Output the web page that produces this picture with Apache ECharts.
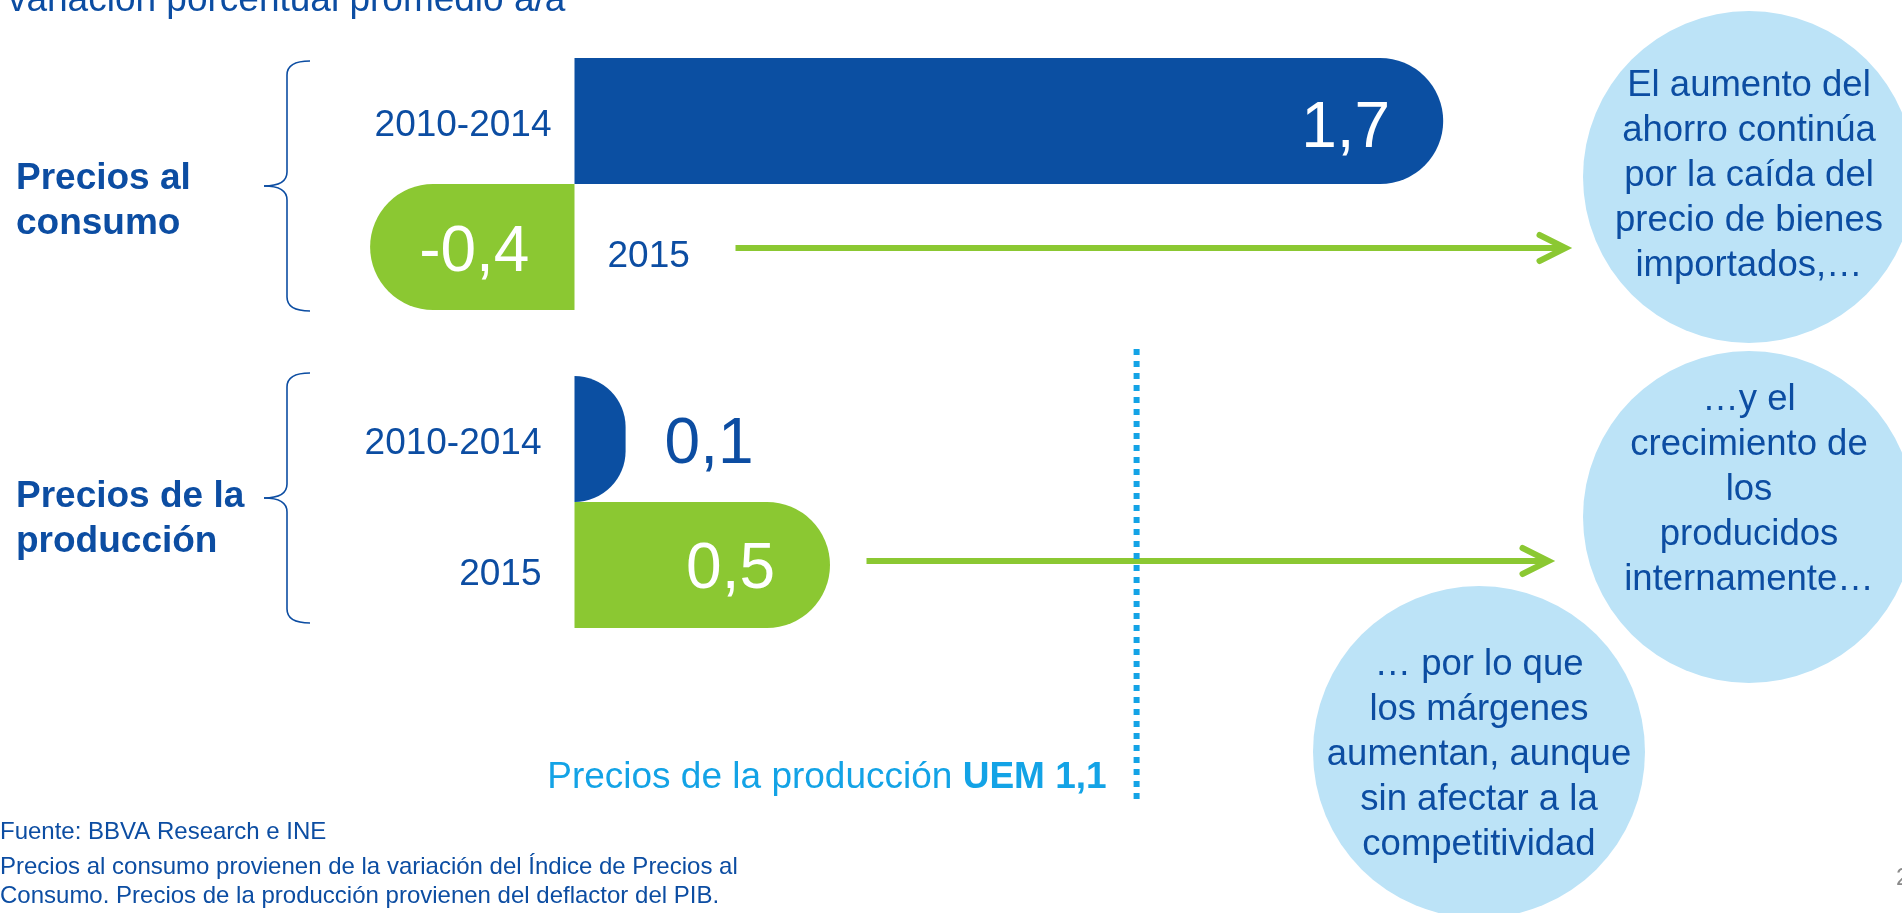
<!DOCTYPE html>
<html>
<head>
<meta charset="utf-8">
<script src="https://cdn.jsdelivr.net/npm/echarts@6/dist/echarts.min.js"></script>
<style>
html,body{margin:0;padding:0;background:#ffffff;overflow:hidden}
#c{width:1902px;height:913px}
</style>
</head>
<body>
<div id="c"></div>
<script>
// ---------- data ----------
const groups = ['Precios al\nconsumo', 'Precios de la\nproducción'];
const periods = ['2010-2014', '2015'];
const values20102014 = [1.7, 0.1];
const values2015 = [-0.4, 0.5];
const uemProduccion = 1.1;
const uemLabel = ['Precios de la producción ', 'UEM 1,1'];
const titleText = 'variación porcentual promedio a/a';
const sourceText = 'Fuente: BBVA Research e INE';
const noteLines = [
  'Precios al consumo provienen de la variación del Índice de Precios al',
  'Consumo. Precios de la producción provienen del deflactor del PIB.'
];
const bubble1 = ['El aumento del', 'ahorro continúa', 'por la caída del', 'precio de bienes', 'importados,…'];
const bubble2 = ['…y el', 'crecimiento de', 'los', 'producidos', 'internamente…'];
const bubble3 = ['… por lo que', 'los márgenes', 'aumentan, aunque', 'sin afectar a la', 'competitividad'];
const pageNumber = '2';

// ---------- style ----------
const BLUE = '#0b4fa2';
const GREEN = '#8bc832';
const TEXT = '#0c4da2';
const LIGHT = '#bce3f7';
const CYAN = '#13a3e6';
const FONT = "'Liberation Sans', Arial, sans-serif";
const BAR_W = 126;
const fmt = v => v.toFixed(1).replace('.', ',');

const chart = echarts.init(document.getElementById('c'), null, {renderer: 'canvas'});

function barItem(v, labelCfg) {
  return {
    value: v,
    itemStyle: {borderRadius: v >= 0 ? [0, 63, 63, 0] : [63, 0, 0, 63]},
    label: labelCfg
  };
}
const bigLabel = {show: true, fontFamily: FONT, fontSize: 64, formatter: p => fmt(p.value)};

const option = {
  animation: false,
  backgroundColor: '#ffffff',
  grid: {left: 63.5, right: 305.5, top: 25, height: 636, containLabel: false},
  xAxis: {type: 'value', min: -1, max: 2, show: false},
  yAxis: {
    type: 'category', data: groups, inverse: true,
    axisLine: {show: false}, axisTick: {show: false}, splitLine: {show: false},
    axisLabel: {show: false}
  },
  series: [
    {
      type: 'bar', name: periods[0], barWidth: BAR_W, barGap: '0%', color: BLUE,
      data: [
        barItem(values20102014[0], Object.assign({}, bigLabel, {position: 'insideRight', distance: 53, color: '#fff', offset: [0, 8]})),
        barItem(values20102014[1], Object.assign({}, bigLabel, {position: 'right', distance: 39, color: TEXT, offset: [0, 6]}))
      ]
    },
    {
      type: 'bar', name: periods[1], barWidth: BAR_W, barGap: '0%', color: GREEN,
      data: [
        barItem(values2015[0], Object.assign({}, bigLabel, {position: 'inside', color: '#fff', offset: [2, 6]})),
        barItem(values2015[1], Object.assign({}, bigLabel, {position: 'insideRight', distance: 55, color: '#fff', offset: [0, 5]}))
      ]
    },
    {
      // period labels next to each bar
      type: 'custom', name: 'periodos', silent: true, z: 5,
      encode: {x: 0, y: 1},
      data: [[0, 0, 0], [0, 0, 1], [0, 1, 0], [0, 1, 1]],
      renderItem: function (params, api) {
        const g = api.value(1), p = api.value(2);
        const pt = api.coord([0, g]);
        const v = p === 0 ? values20102014[g] : values2015[g];
        const onRight = v < 0;
        const gap = [23, 33, 33, 33][params.dataIndex];
        const dy = [5, 10, 5, 10][params.dataIndex];
        return {
          type: 'text',
          x: pt[0] + (onRight ? gap : -gap),
          y: pt[1] + (p === 0 ? -BAR_W / 2 : BAR_W / 2) + dy,
          style: {
            text: periods[p], fill: TEXT, font: '37px ' + FONT,
            align: onRight ? 'left' : 'right', verticalAlign: 'middle'
          }
        };
      }
    },
    {
      // group labels at the left
      type: 'custom', name: 'grupos', silent: true, z: 5,
      encode: {x: 0, y: 1},
      data: [[0, 0], [0, 1]],
      renderItem: function (params, api) {
        const g = api.value(1);
        const pt = api.coord([0, g]);
        return {
          type: 'text', x: 16, y: pt[1] + 17,
          style: {
            text: groups[g], fill: TEXT, font: 'bold 37px ' + FONT,
            align: 'left', verticalAlign: 'middle', lineHeight: 45
          }
        };
      }
    }
  ]
};
chart.setOption(option);

// ---------- annotations positioned from the chart scales ----------
const x0 = chart.convertToPixel({xAxisIndex: 0}, 0);
const xUem = chart.convertToPixel({xAxisIndex: 0}, uemProduccion);
const yC0 = chart.convertToPixel({yAxisIndex: 0}, 0);
const yC1 = chart.convertToPixel({yAxisIndex: 0}, 1);

function brace(yc) {
  const t = yc - 123, b = yc + 127, m = yc + 2;
  const st = {stroke: TEXT, lineWidth: 1.6, fill: null};
  return {
    type: 'group', silent: true, children: [
      {type: 'bezierCurve', shape: {x1: 310, y1: t, cpx1: 287, cpy1: t, x2: 287, y2: t + 14}, style: st},
      {type: 'line', shape: {x1: 287, y1: t + 14, x2: 287, y2: m - 14}, style: st},
      {type: 'bezierCurve', shape: {x1: 287, y1: m - 14, cpx1: 287, cpy1: m, x2: 264, y2: m}, style: st},
      {type: 'bezierCurve', shape: {x1: 264, y1: m, cpx1: 287, cpy1: m, x2: 287, y2: m + 14}, style: st},
      {type: 'line', shape: {x1: 287, y1: m + 14, x2: 287, y2: b - 14}, style: st},
      {type: 'bezierCurve', shape: {x1: 287, y1: b - 14, cpx1: 287, cpy1: b, x2: 310, y2: b}, style: st}
    ]
  };
}
function arrow(xs, xe, y) {
  return {
    type: 'group', silent: true, children: [
      {type: 'line', shape: {x1: xs, y1: y, x2: xe - 2, y2: y}, style: {stroke: GREEN, lineWidth: 6}},
      {type: 'polyline', shape: {points: [[xe - 26, y - 13], [xe, y], [xe - 26, y + 13]]},
        style: {stroke: GREEN, lineWidth: 6, fill: null, lineCap: 'round', lineJoin: 'miter'}}
    ]
  };
}
function bubble(cx, cy, lines, ty) {
  return {
    type: 'group', silent: true, children: [
      {type: 'circle', shape: {cx: cx, cy: cy, r: 166}, style: {fill: LIGHT}},
      {type: 'text', x: cx, y: ty, style: {
        text: lines.join('\n'), fill: TEXT, font: '36.5px ' + FONT,
        align: 'center', verticalAlign: 'middle', lineHeight: 44.8
      }}
    ]
  };
}

chart.setOption({
  graphic: [
    {type: 'text', x: 8, y: 1, silent: true,
      style: {text: titleText, fill: TEXT, font: '37px ' + FONT, verticalAlign: 'middle'}},
    brace(yC0),
    brace(yC1 - 6),
    arrow(x0 + 161, x0 + 991, yC0 + BAR_W / 2 + 1),
    arrow(x0 + 292, x0 + 974, yC1 + BAR_W / 2 - 4),
    {type: 'line', silent: true, shape: {x1: xUem, y1: 349, x2: xUem, y2: 799},
      style: {stroke: CYAN, lineWidth: 6, lineDash: [6, 6]}},
    {type: 'text', x: xUem - 30, y: 778, silent: true,
      style: {
        text: '{r|' + uemLabel[0] + '}{b|' + uemLabel[1] + '}',
        align: 'right', verticalAlign: 'middle',
        rich: {
          r: {fill: CYAN, font: '37px ' + FONT},
          b: {fill: CYAN, font: 'bold 37px ' + FONT}
        }
      }},
    bubble(1749, 177, bubble1, 176),
    bubble(1749, 517, bubble2, 490),
    bubble(1479, 752, bubble3, 755),
    {type: 'text', x: 0, y: 832, silent: true,
      style: {text: sourceText, fill: TEXT, font: '24px ' + FONT, verticalAlign: 'middle'}},
    {type: 'text', x: 0, y: 881.5, silent: true,
      style: {text: noteLines.join('\n'), fill: TEXT, font: '24px ' + FONT, verticalAlign: 'middle', lineHeight: 29}},
    {type: 'text', x: 1896, y: 878, silent: true,
      style: {text: pageNumber, fill: '#8a8a8a', font: '24px ' + FONT, verticalAlign: 'middle'}}
  ]
});
</script>
</body>
</html>
